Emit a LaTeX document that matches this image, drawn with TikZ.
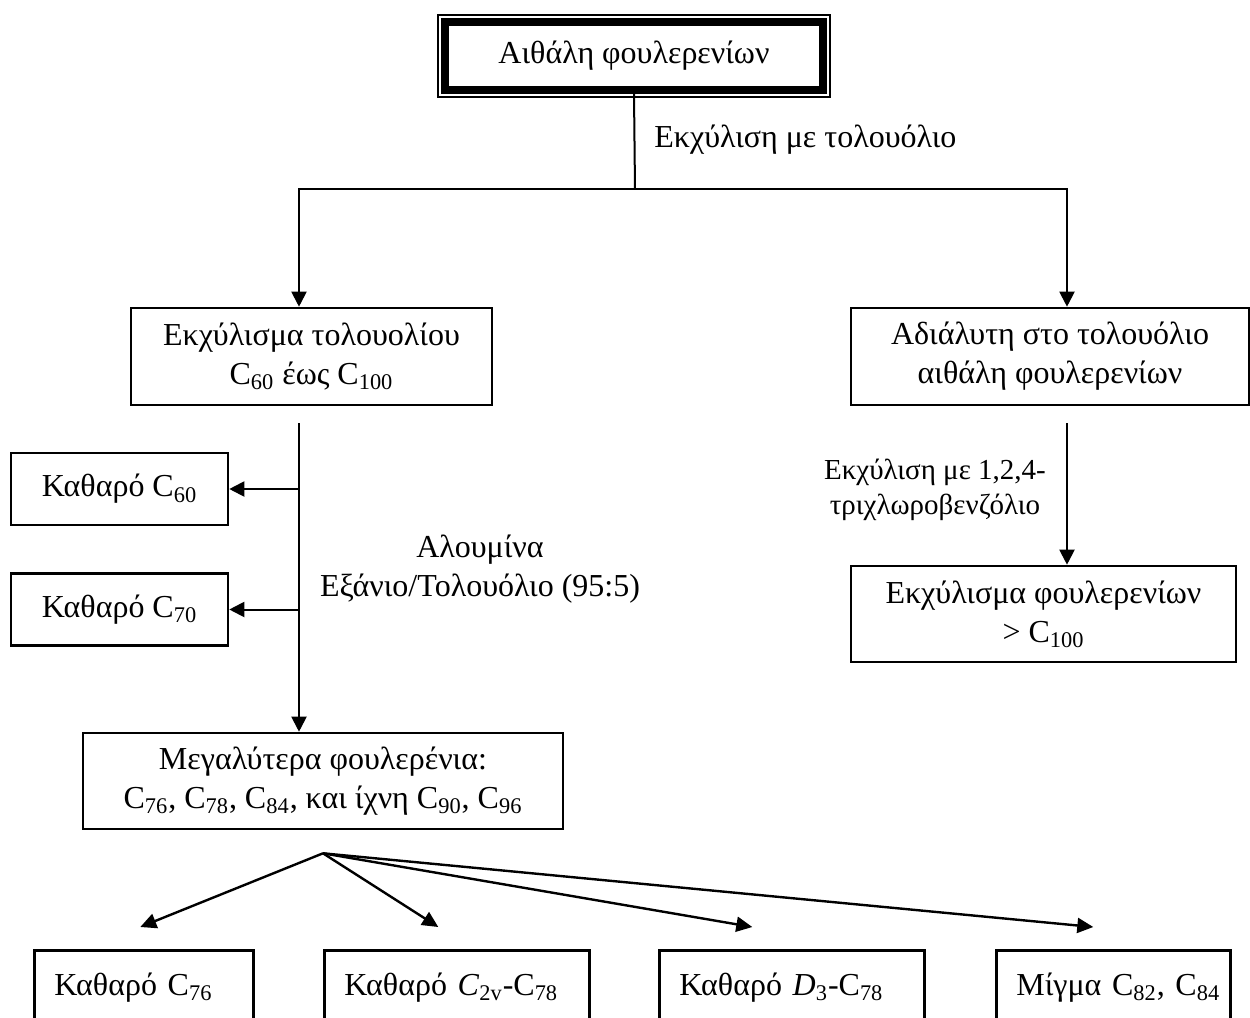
\documentclass[tikz,border=0pt]{standalone}
\usepackage{fontspec}
\setmainfont{Liberation Serif}
\usetikzlibrary{arrows.meta}

\newcommand{\Cn}[1]{C\textsubscript{#1}}
\def\px{0.5pt}

\tikzset{
  every node/.style={font=\fontsize{16}{19.5}\selectfont},
  box/.style={draw, line width=1.3pt, align=center, inner sep=0pt},
  endbox/.style={draw, line width=1.3pt, align=left, inner xsep=10pt, inner ysep=0pt,
    minimum height=74*\px, anchor=north west},
  lbl/.style={inner sep=0pt, align=center},
  arr/.style={-{Triangle[length=7.5pt,width=7.5pt]}, line width=1pt},
  fan/.style={-{Triangle[length=8pt,width=7.5pt]}, line width=1.2pt},
}

\begin{document}
\begin{tikzpicture}[x=0.5pt, y=-0.5pt]
\useasboundingbox (0,0) rectangle (1250,1018);

% top: soot with a thick-thin frame
\node[box, line width=3.8pt, minimum width=378*\px, minimum height=68*\px] (soot) at (634,56) {Αιθάλη φουλερενίων};
\draw[line width=1pt] ([shift={(-1.75pt,1.75pt)}]soot.north west) rectangle ([shift={(1.75pt,-1.75pt)}]soot.south east);

\coordinate (fork) at (635,189);
\draw[line width=1pt] (soot.south) -- (fork);
\node[lbl, anchor=west] (solv) at (654,140) {Εκχύλιση με τολουόλιο};

\node[box, minimum width=361*\px, minimum height=97*\px] (ext) at (311.5,356.5) {Εκχύλισμα τολουολίου\\\Cn{60} έως \Cn{100}};
\node[box, minimum width=398*\px, minimum height=97*\px] (ins) at (1050,356.5) {Αδιάλυτη στο τολουόλιο\\αιθάλη φουλερενίων};
\draw[arr] (fork) -| ([xshift=-6.25pt]ext.north);
\draw[arr] (fork) -| ([xshift=8.5pt]ins.north);

% left column: alumina
\node[box, minimum width=217*\px, minimum height=72*\px] (c60) at (119.5,489) {Καθαρό \Cn{60}};
\node[box, minimum width=217*\px, minimum height=72*\px] (c70) at (119.5,609.5) {Καθαρό \Cn{70}};
\node[box, minimum width=480*\px, minimum height=96*\px] (big) at (323,781) {Μεγαλύτερα φουλερένια:\\\Cn{76}, \Cn{78}, \Cn{84}, και ίχνη \Cn{90}, \Cn{96}};
\coordinate (colA) at ([shift={(-6.25pt,-8.5pt)}]ext.south);
\draw[arr] (colA) -- (colA |- big.north);
\foreach \b in {c60,c70}
  \draw[arr] (colA |- \b.east) -- (\b.east);
\node[lbl] (alu) at (480,569) {Αλουμίνα\\Εξάνιο/Τολουόλιο (95:5)};

% right column
\node[box, minimum width=385*\px, minimum height=96*\px] (ext2) at (1043.5,614) {Εκχύλισμα φουλερενίων\\> \Cn{100}};
\coordinate (colB) at ([shift={(8.5pt,-8.5pt)}]ins.south);
\draw[arr] (colB) -- (colB |- ext2.north);
\node[lbl, font=\fontsize{14.5}{17.5}\selectfont] (tcb) at (935,490) {Εκχύλιση με 1,2,4-\\τριχλωροβενζόλιο};

% bottom row, fed from one point under the box
\coordinate (hub) at ([yshift=-11.5pt]big.south);
\foreach \n/\x/\w/\t/\dx in {p76/33/89.5/{Καθαρό \Cn{76}}/-1.75,
    p78a/323/112.5/{Καθαρό \textit{C}\textsubscript{2v}-\Cn{78}}/-9.25,
    p78b/658/112.5/{Καθαρό \textit{D}\textsubscript{3}-\Cn{78}}/-19.75,
    mix/995/97/{Μίγμα \Cn{82}, \Cn{84}}/-10}
{
  \node[endbox, text width=\w pt] (\n) at (\x,949) {\mbox{\t}};
  \draw[fan] (hub) -- ([shift={(\dx pt,11pt)}]\n.north);
}

\end{tikzpicture}
\end{document}
